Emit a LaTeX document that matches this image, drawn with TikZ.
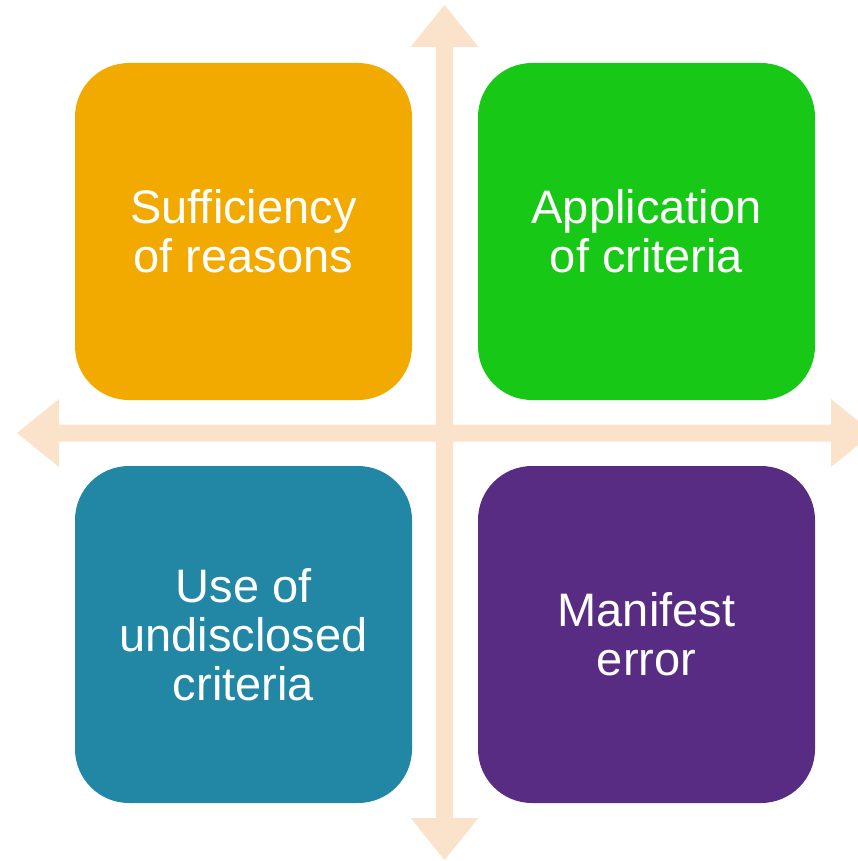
\documentclass[tikz,border=0pt]{standalone}
\usepackage{fontspec}
\setmainfont{Liberation Sans}
\usetikzlibrary{calc}
\definecolor{peach}{HTML}{FBE2CB}
\definecolor{cOrange}{HTML}{F2A900}
\definecolor{cGreen}{HTML}{18C816}
\definecolor{cTeal}{HTML}{2286A5}
\definecolor{cPurple}{HTML}{582C82}
\tikzset{
  quad/.style={rounded corners=54pt, minimum width=337pt, minimum height=337pt,
    inner sep=0pt, text=white, align=center,
    font=\fontsize{47}{49}\selectfont},
  axisarrow/.style={fill=peach, draw=none}
}
\begin{document}
\begin{tikzpicture}[x=1pt,y=-1pt]
\useasboundingbox (0,0) rectangle (858,861);
\clip (0,0) rectangle (858,861);
% axis coordinates
\coordinate (vt) at (444.5,5);
\coordinate (vb) at (444.5,860);
\coordinate (hl) at (17,433);
\coordinate (hr) at (873,433);
% vertical double arrow
\fill[axisarrow] (vt) -- ++(34,42) -- ++(-25.5,0) |- ($(vb)+(8.5,-42)$) -- ++(25.5,0) -- (vb)
   -- ++(-34,-42) -- ++(25.5,0) |- ($(vt)+(-8.5,42)$) -- ++(-25.5,0) -- cycle;
% horizontal double arrow
\fill[axisarrow] (hl) -- ++(42,-34) -- ++(0,25.5) -| ($(hr)+(-42,-8.5)$) -- ++(0,-25.5) -- (hr)
   -- ++(-42,34) -- ++(0,-25.5) -| ($(hl)+(42,8.5)$) -- ++(0,25.5) -- cycle;
% quadrants
\node[quad, fill=cOrange] (tl) at (243.5,231.5) {Sufficiency\\of reasons};
\node[quad, fill=cGreen] (tr) at (646.5,231.5) {Application\\of criteria};
\node[quad, fill=cTeal] (bl) at (243.5,634.5) {Use of\\undisclosed\\criteria};
\node[quad, fill=cPurple] (br) at (646.5,634.5) {Manifest\\error};
\end{tikzpicture}
\end{document}
